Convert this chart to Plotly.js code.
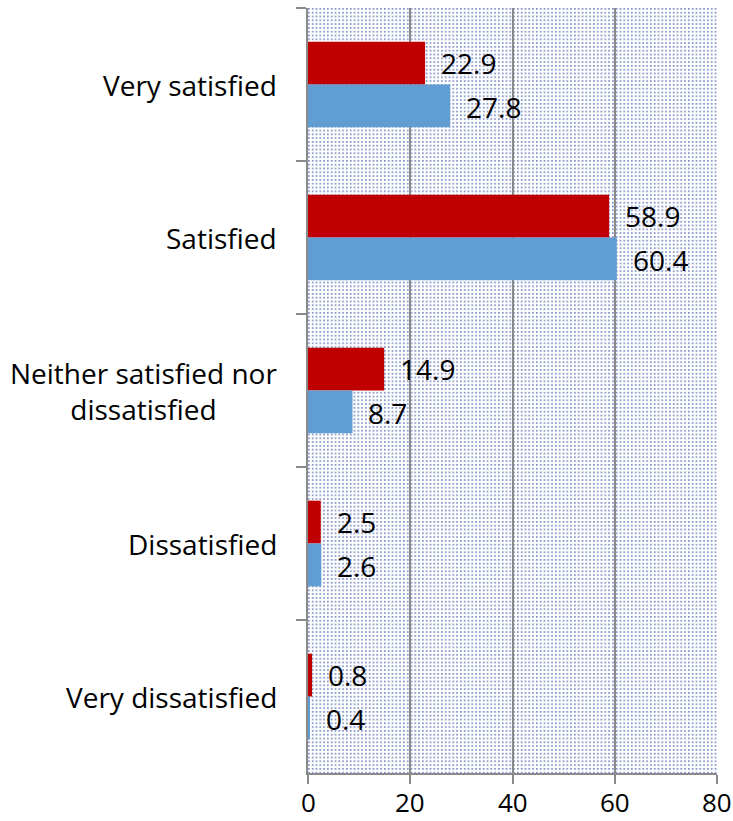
<!DOCTYPE html>
<html>
<head>
<meta charset="utf-8">
<script src="https://cdn.plot.ly/plotly-3.0.1.min.js"></script>
<style>html,body{margin:0;padding:0;background:#fff;}</style>
</head>
<body>
<div id="chart" style="width:733px;height:821px;"></div>
<script>
const categories = ["Very satisfied", "Satisfied", "Neither satisfied nor<br>dissatisfied", "Dissatisfied", "Very dissatisfied"];
const seriesRed = [22.9, 58.9, 14.9, 2.5, 0.8];
const seriesBlue = [27.8, 60.4, 8.7, 2.6, 0.4];
const xTicks = [0, 20, 40, 60, 80];

const FONT = "Open Sans";
const FS = 28;
const redColor = "#C00000";
const blueColor = "#5F9DD3";

const svgPattern = '<svg xmlns="http://www.w3.org/2000/svg" width="409" height="765">' +
  '<defs><pattern id="p" width="3.8" height="3.8" patternUnits="userSpaceOnUse">' +
  '<rect x="0" y="0" width="1.7" height="1.7" fill="#7d90c8"/></pattern></defs>' +
  '<rect width="409" height="765" fill="#ffffff"/><rect width="409" height="765" fill="url(#p)"/></svg>';
const bgSrc = 'data:image/svg+xml;charset=utf-8,' + encodeURIComponent(svgPattern);

const traces = [
  {type: 'bar', orientation: 'h', y: categories, x: seriesRed, name: 'red',
   marker: {color: redColor}, hoverinfo: 'none'},
  {type: 'bar', orientation: 'h', y: categories, x: seriesBlue, name: 'blue',
   marker: {color: blueColor}, hoverinfo: 'none'}
];

const annotations = [];
categories.forEach((c, i) => {
  annotations.push({x: seriesRed[i], y: c, xref: 'x', yref: 'y', text: seriesRed[i].toFixed(1),
    showarrow: false, xanchor: 'left', yanchor: 'middle', xshift: 14, yshift: 22,
    font: {family: FONT, size: FS, color: '#000'}});
  annotations.push({x: seriesBlue[i], y: c, xref: 'x', yref: 'y', text: seriesBlue[i].toFixed(1),
    showarrow: false, xanchor: 'left', yanchor: 'middle', xshift: 14, yshift: -22,
    font: {family: FONT, size: FS, color: '#000'}});
  annotations.push({x: 0, y: c, xref: 'paper', yref: 'y', text: c,
    showarrow: false, xanchor: 'right', yanchor: 'middle', align: 'center', xshift: -29,
    font: {family: FONT, size: FS, color: '#000'}});
});
xTicks.forEach(v => {
  annotations.push({x: v, y: 0, xref: 'x', yref: 'paper', text: String(v),
    showarrow: false, xanchor: 'center', yanchor: 'middle', yshift: -29, borderpad: 0,
    font: {family: FONT, size: 26, color: '#000'}});
});

const layout = {
  width: 733, height: 821,
  margin: {l: 308, r: 16, t: 8, b: 48, pad: 0},
  paper_bgcolor: '#ffffff',
  plot_bgcolor: 'rgba(0,0,0,0)',
  showlegend: false,
  barmode: 'group',
  bargap: 0.44,
  bargroupgap: 0,
  font: {family: FONT, size: FS, color: '#000'},
  xaxis: {
    range: [0, 80], tickvals: xTicks, showticklabels: false,
    showgrid: true, gridcolor: '#8a8a8a', gridwidth: 2,
    showline: true, linecolor: '#8a8a8a', linewidth: 2,
    ticks: 'outside', ticklen: 9, tickwidth: 2, tickcolor: '#8a8a8a',
    zeroline: false, fixedrange: true
  },
  yaxis: {
    type: 'category', autorange: 'reversed',
    showticklabels: false,
    showline: true, linecolor: '#8a8a8a', linewidth: 2,
    ticks: 'outside', tickson: 'boundaries', ticklen: 10, tickwidth: 2, tickcolor: '#8a8a8a',
    showgrid: false, zeroline: false, fixedrange: true
  },
  images: [{source: bgSrc, xref: 'paper', yref: 'paper', x: 0, y: 1, sizex: 1, sizey: 1,
    sizing: 'stretch', xanchor: 'left', yanchor: 'top', layer: 'below'}],
  annotations: annotations
};

Plotly.newPlot('chart', traces, layout, {displayModeBar: false, staticPlot: true});
</script>
</body>
</html>
